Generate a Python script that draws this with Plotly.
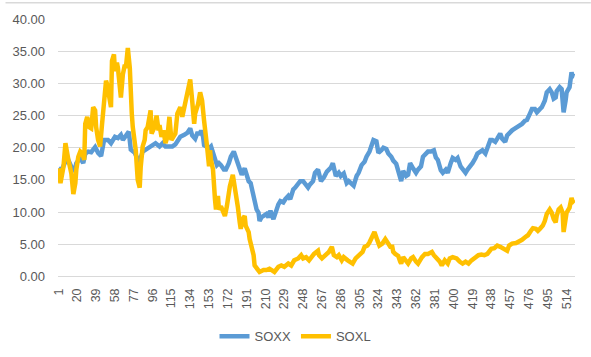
import plotly.graph_objects as go

TICK_LABELS = ["1", "20", "39", "58", "77", "96", "115", "134", "153", "172", "191", "210",
               "229", "248", "267", "286", "305", "324", "343", "362", "381", "400", "419",
               "438", "457", "476", "495", "514"]
N_DAYS = 522

SOXX_DAYS = [1, 4, 7, 10, 14, 17, 19, 23, 26, 28, 31, 34, 36, 38, 41, 44, 47, 51, 54, 58, 61, 64, 66, 69,
             72, 74, 78, 81, 83, 86, 89, 93, 96, 99, 103, 106, 109, 113, 116, 119, 124, 128, 131, 134,
             136, 139, 141, 144, 145, 147, 148, 150, 153, 155, 157, 159, 161, 163, 165, 168, 170, 173,
             175, 178, 180, 182, 184, 186, 189, 191, 193, 195, 197, 199, 201, 203, 204, 206, 209, 211,
             213, 215, 218, 220, 223, 225, 228, 230, 233, 235, 238, 240, 243, 245, 248, 250, 253, 255,
             258, 260, 263, 266, 269, 272, 276, 278, 281, 284, 286, 289, 292, 294, 297, 299, 302, 304,
             307, 310, 312, 315, 317, 319, 322, 324, 327, 329, 332, 334, 337, 339, 342, 344, 347, 349,
             352, 354, 356, 359, 362, 364, 367, 369, 372, 374, 377, 380, 382, 384, 387, 389, 392, 394,
             397, 399, 402, 404, 407, 409, 412, 414, 417, 419, 422, 424, 427, 429, 432, 434, 437, 439,
             442, 444, 447, 449, 452, 454, 457, 459, 462, 464, 467, 469, 472, 474, 477, 479, 482, 484,
             487, 489, 492, 494, 497, 499, 501, 503, 504, 507, 509, 510, 511, 513, 514, 517, 519, 520, 522]
SOXX_VALUES = [16.8, 16.5, 17.5, 18.4, 17.0, 16.3, 17.6, 18.4, 17.6, 19.1, 19.4, 19.3, 19.7, 20.1, 19.2,
               18.7, 21.2, 21.2, 20.7, 21.7, 21.5, 22.0, 21.2, 22.0, 22.5, 19.7, 19.2, 18.2, 17.9, 19.4,
               19.7, 20.2, 20.5, 20.7, 20.2, 20.7, 20.2, 20.2, 20.2, 20.5, 21.7, 22.0, 22.3, 23.0, 21.9,
               21.4, 22.2, 22.2, 22.7, 21.7, 20.4, 20.2, 19.9, 20.2, 19.1, 18.6, 17.3, 17.6, 17.3, 16.6,
               16.6, 17.6, 18.6, 19.4, 18.6, 17.6, 16.6, 15.8, 16.8, 15.8, 14.8, 14.5, 13.0, 11.5, 10.4,
               9.9, 8.6, 9.2, 9.4, 9.7, 9.2, 10.2, 8.9, 9.9, 11.2, 11.7, 11.5, 12.0, 12.5, 12.0, 13.5,
               13.8, 14.5, 14.8, 14.8, 14.3, 13.8, 14.3, 14.8, 16.1, 16.6, 14.8, 15.4, 16.3, 16.9, 17.6,
               15.6, 16.1, 15.6, 16.0, 14.5, 14.8, 14.5, 14.1, 15.6, 16.1, 17.3, 17.8, 18.6, 19.4, 20.3,
               21.2, 21.0, 19.2, 19.6, 20.0, 19.8, 19.1, 18.6, 18.0, 17.5, 16.1, 14.8, 16.4, 15.6, 15.8,
               17.6, 16.8, 16.1, 16.6, 17.1, 18.6, 19.1, 19.4, 19.4, 19.6, 18.5, 18.1, 16.5, 16.1, 16.6,
               16.1, 17.6, 18.4, 18.1, 18.4, 17.1, 16.6, 16.1, 16.6, 17.1, 17.6, 18.4, 19.1, 19.4, 19.6,
               19.1, 19.9, 21.2, 21.2, 20.9, 21.4, 22.2, 21.4, 20.9, 21.9, 22.5, 22.7, 23.0, 23.2, 23.3,
               23.7, 24.2, 24.3, 25.3, 26.0, 26.0, 25.5, 26.0, 26.3, 27.3, 28.6, 29.1, 28.6, 27.6, 27.8,
               28.8, 29.4, 29.1, 27.8, 25.5, 27.3, 28.6, 29.4, 31.7, 31.2, 31.1]

SOXL_DAYS = [1, 3, 6, 8, 11, 13, 14, 16, 18, 19, 21, 23, 25, 27, 28, 30, 32, 34, 36, 38, 39, 41, 43, 45,
             47, 49, 50, 52, 54, 55, 57, 58, 60, 61, 63, 64, 66, 68, 69, 71, 73, 74, 75, 76, 78, 79, 81,
             83, 84, 86, 88, 89, 91, 93, 94, 95, 98, 100, 102, 103, 105, 107, 109, 111, 113, 115, 117,
             119, 121, 124, 126, 128, 131, 134, 136, 138, 139, 142, 144, 146, 148, 149, 151, 153, 154,
             155, 157, 159, 160, 162, 163, 165, 167, 169, 171, 173, 174, 177, 178, 180, 182, 184, 185,
             187, 189, 190, 193, 194, 196, 198, 199, 202, 204, 208, 211, 214, 216, 219, 223, 226, 229,
             233, 236, 239, 243, 246, 248, 251, 254, 256, 259, 263, 264, 267, 270, 274, 277, 279, 282,
             284, 287, 289, 293, 296, 298, 301, 304, 308, 310, 313, 315, 318, 320, 323, 325, 328, 331,
             334, 336, 338, 339, 341, 344, 346, 347, 349, 352, 354, 357, 359, 362, 364, 368, 371, 374,
             378, 380, 383, 386, 388, 391, 394, 396, 399, 403, 406, 409, 412, 415, 418, 422, 425, 428,
             431, 434, 438, 441, 444, 447, 450, 454, 456, 459, 463, 466, 469, 473, 475, 478, 480, 483,
             485, 487, 490, 492, 494, 497, 499, 501, 503, 504, 506, 508, 510, 511, 513, 514, 517, 519,
             520, 522]
SOXL_VALUES = [16.8, 14.5, 17.0, 20.7, 18.1, 16.6, 16.0, 12.8, 14.5, 16.6, 18.6, 19.4, 19.1, 18.1, 23.7,
               24.8, 23.2, 23.0, 26.3, 25.8, 23.2, 21.2, 20.2, 23.7, 27.8, 30.4, 29.9, 28.3, 26.3, 33.5,
               34.5, 31.9, 33.2, 32.4, 28.3, 27.8, 31.4, 32.9, 32.4, 35.5, 32.4, 26.3, 25.3, 23.2, 21.2,
               19.6, 15.0, 13.8, 17.0, 20.2, 21.2, 22.7, 23.2, 25.3, 25.8, 22.2, 23.2, 25.0, 22.7, 23.5,
               21.7, 22.7, 20.7, 21.7, 24.8, 21.2, 21.7, 22.2, 25.3, 26.3, 24.8, 26.3, 28.3, 30.6, 27.3,
               23.7, 25.3, 26.8, 28.6, 27.3, 24.2, 22.2, 20.2, 17.1, 19.6, 18.1, 16.6, 12.0, 10.4, 12.5,
               10.4, 10.9, 9.9, 9.4, 10.9, 13.0, 14.0, 15.8, 15.0, 12.5, 10.9, 8.4, 7.4, 8.9, 9.4, 7.9,
               6.9, 5.8, 4.8, 3.3, 1.7, 1.0, 0.7, 1.0, 1.0, 1.2, 1.0, 0.7, 1.5, 1.7, 1.5, 2.0, 1.7, 2.5,
               2.8, 3.3, 2.8, 3.0, 2.5, 3.0, 3.5, 4.0, 3.3, 2.8, 3.3, 3.8, 4.6, 3.3, 3.0, 3.3, 2.5, 3.0,
               2.5, 2.3, 2.0, 2.8, 3.3, 3.8, 4.6, 4.8, 5.3, 6.1, 6.9, 5.6, 4.8, 5.1, 5.8, 5.1, 4.6, 4.6,
               3.8, 3.5, 3.2, 2.3, 2.0, 3.0, 2.3, 2.0, 2.8, 3.0, 2.3, 2.0, 3.0, 3.5, 3.5, 3.8, 3.3, 2.8,
               2.3, 1.7, 2.5, 2.0, 2.8, 3.0, 2.8, 2.3, 2.0, 2.3, 2.0, 2.5, 3.0, 3.3, 3.4, 3.3, 3.5, 4.3,
               4.4, 4.8, 4.6, 4.3, 4.0, 4.8, 5.1, 5.2, 5.4, 5.7, 6.2, 6.4, 7.1, 7.5, 7.4, 7.1, 7.4, 7.9,
               8.6, 9.7, 10.4, 9.9, 8.9, 8.4, 9.4, 10.4, 10.7, 9.9, 6.9, 8.9, 9.9, 10.7, 12.2, 11.7, 11.4]

Y_TICKS = [0, 5, 10, 15, 20, 25, 30, 35, 40]

FONT = "Liberation Sans"
GRAY = "#595959"
GRID = "#d9d9d9"

fig = go.Figure()
fig.add_trace(go.Scatter(x=SOXX_DAYS, y=SOXX_VALUES, mode="lines", name="SOXX",
                         line=dict(color="#5B9BD5", width=4.5)))
fig.add_trace(go.Scatter(x=SOXL_DAYS, y=SOXL_VALUES, mode="lines", name="SOXL",
                         line=dict(color="#FFC000", width=4.5)))

tick_vals = [int(t) for t in TICK_LABELS]

fig.update_layout(
    width=591, height=357,
    margin=dict(l=53, r=16, t=18, b=79),
    paper_bgcolor="white", plot_bgcolor="white",
    font=dict(family=FONT, size=12.5, color=GRAY),
    showlegend=True,
    hovermode=False,
    legend=dict(orientation="h", xref="container", yref="container",
                x=0.5, xanchor="center", y=0.058, yanchor="middle",
                font=dict(family=FONT, size=13, color=GRAY),
                itemwidth=30, bgcolor="rgba(0,0,0,0)"),
    xaxis=dict(range=[0.5, N_DAYS + 0.5], tickmode="array", tickvals=tick_vals,
               ticktext=TICK_LABELS, tickangle=-90, showgrid=False, zeroline=False,
               showline=True, linecolor=GRID, linewidth=1, ticks="",
               ticklabelstandoff=6, tickfont=dict(size=12.5)),
    yaxis=dict(range=[0, 40], tickmode="array", tickvals=Y_TICKS,
               ticktext=[f"{v:.2f}" for v in Y_TICKS], showgrid=True, gridcolor=GRID,
               gridwidth=1, zeroline=False, showline=False, ticks="",
               ticklabelstandoff=12, tickfont=dict(size=13)),
    shapes=[dict(type="line", xref="paper", yref="paper", x0=-53 / 522, x1=1 + 16 / 522,
                 y0=1 + 16.5 / 260, y1=1 + 16.5 / 260, line=dict(color=GRID, width=1.5))],
)

fig.write_html("out.html", config={"displayModeBar": False, "staticPlot": True},
               post_script="document.body.style.margin='0px';document.body.style.overflow='hidden';")
